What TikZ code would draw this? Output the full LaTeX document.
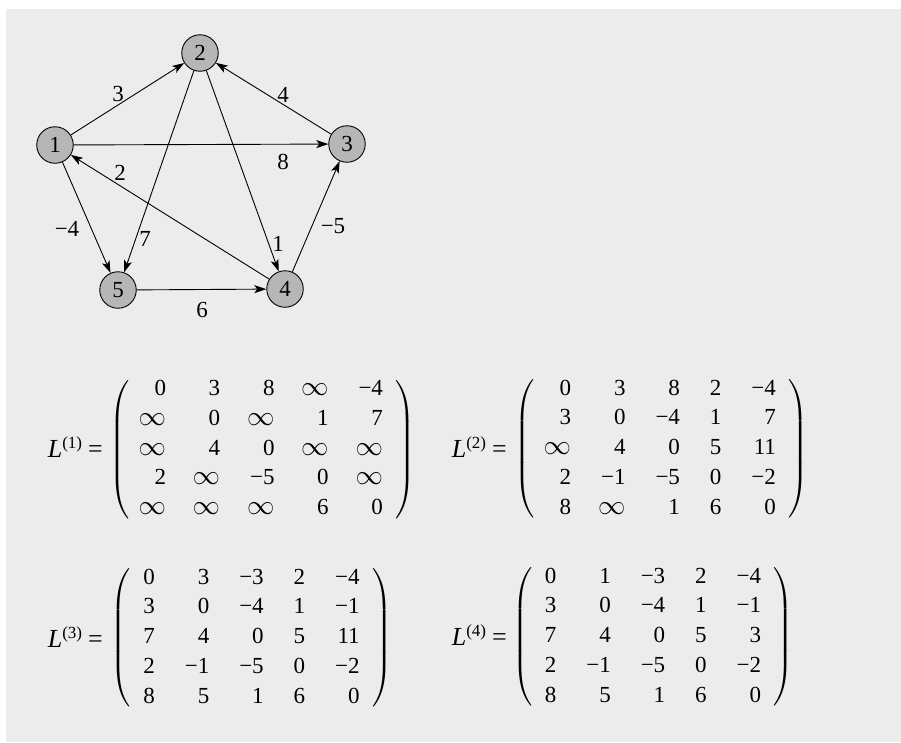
\documentclass[tikz,border=0pt]{standalone}
\usepackage{amsmath,amssymb}
\usepackage{fontspec}
\setmainfont{Liberation Serif}
\usepackage{xcolor}
\usetikzlibrary{arrows.meta,matrix}

\definecolor{paper}{HTML}{ECECEC}
\definecolor{vertexfill}{HTML}{B6B6B6}

\tikzset{
  vertex/.style={circle, draw, line width=0.9pt, fill=vertexfill,
    minimum size=36.5pt, inner sep=0pt},
  wedge/.style={line width=0.9pt,
    -{Stealth[length=12pt, width=8pt, inset=3pt]}},
  distmat/.style={matrix of nodes, inner sep=0pt,
    column sep=30pt, row sep=8.75pt,
    nodes={anchor=base east, inner sep=0pt, text height=16pt, text depth=5pt},
    left delimiter=(, right delimiter=)},
  every left delimiter/.style={inner sep=0pt, xshift=-11pt},
  every right delimiter/.style={inner sep=0pt, xshift=11pt},
  matlabel/.style={anchor=base east, inner sep=0pt},
}

\newcommand{\inft}{\makebox[24pt][r]{\scalebox{1.1}{$\infty$}}}
\newcommand{\mi}[1]{−#1}
\newcommand{\Lk}[1]{{\fontsize{26}{30}\selectfont\textit{L}}%
  \raisebox{9pt}{\fontsize{17}{19}\selectfont(#1)}\hspace{6pt}%
  {\fontsize{26}{30}\selectfont=}}

\begin{document}
\begin{tikzpicture}[x=1pt, y=-1pt, font=\fontsize{23}{27}\selectfont]

    % Page
    \useasboundingbox (0,0) rectangle (901,742);
    \fill[white] (0,0) rectangle (901,742);
    \fill[paper] (6,9) rectangle (901,742);

    % Vertices
    \node[vertex] (v1) at (55,145)  {1};
    \node[vertex] (v2) at (200,53)  {2};
    \node[vertex] (v3) at (347,144) {3};
    \node[vertex] (v4) at (285,289) {4};
    \node[vertex] (v5) at (118,290) {5};

    % Edges
    \draw[wedge] (v1) -- (v2);
    \draw[wedge] (v1) -- (v3);
    \draw[wedge] (v1) -- (v5);
    \draw[wedge] (v2) -- (v5);
    \draw[wedge] (v2) -- (v4);
    \draw[wedge] (v3) -- (v2);
    \draw[wedge] (v4) -- (v1);
    \draw[wedge] (v4) -- (v3);
    \draw[wedge] (v5) -- (v4);

    % Edge weights
    \node (w12) at (118,94)  {3};
    \node (w32) at (283,95)  {4};
    \node (w13) at (283,162) {8};
    \node (w41) at (120,173) {2};
    \node (w15) at (67,229)  {\mi{4}};
    \node (w25) at (145,239) {7};
    \node (w24) at (278,244) {1};
    \node (w43) at (333,226) {\mi{5}};
    \node (w54) at (202,310) {6};

    % L^(1)
    \node[matlabel] (lab1) at (103,457) {\Lk{1}};
    \matrix[distmat] (Lone) at (262.5,449.5) {
      0 & 3 & 8 & \inft & \mi{4} \\
      \inft & 0 & \inft & 1 & 7 \\
      \inft & 4 & 0 & \inft & \inft \\
      2 & \inft & \mi{5} & 0 & \inft \\
      \inft & \inft & \inft & 6 & 0 \\
    };

    % L^(2)
    \node[matlabel] (lab2) at (507,457) {\Lk{2}};
    \matrix[distmat] (Ltwo) at (661.5,449) {
      0 & 3 & 8 & 2 & \mi{4} \\
      3 & 0 & \mi{4} & 1 & 7 \\
      \inft & 4 & 0 & 5 & 11 \\
      2 & \mi{1} & \mi{5} & 0 & \mi{2} \\
      8 & \inft & 1 & 6 & 0 \\
    };

    % L^(3)
    \node[matlabel] (lab3) at (103,647) {\Lk{3}};
    \matrix[distmat] (Lthree) at (251.5,638) {
      0 & 3 & \mi{3} & 2 & \mi{4} \\
      3 & 0 & \mi{4} & 1 & \mi{1} \\
      7 & 4 & 0 & 5 & 11 \\
      2 & \mi{1} & \mi{5} & 0 & \mi{2} \\
      8 & 5 & 1 & 6 & 0 \\
    };

    % L^(4)
    \node[matlabel] (lab4) at (507,645) {\Lk{4}};
    \matrix[distmat] (Lfour) at (653,637) {
      0 & 1 & \mi{3} & 2 & \mi{4} \\
      3 & 0 & \mi{4} & 1 & \mi{1} \\
      7 & 4 & 0 & 5 & 3 \\
      2 & \mi{1} & \mi{5} & 0 & \mi{2} \\
      8 & 5 & 1 & 6 & 0 \\
    };

\end{tikzpicture}
\end{document}
